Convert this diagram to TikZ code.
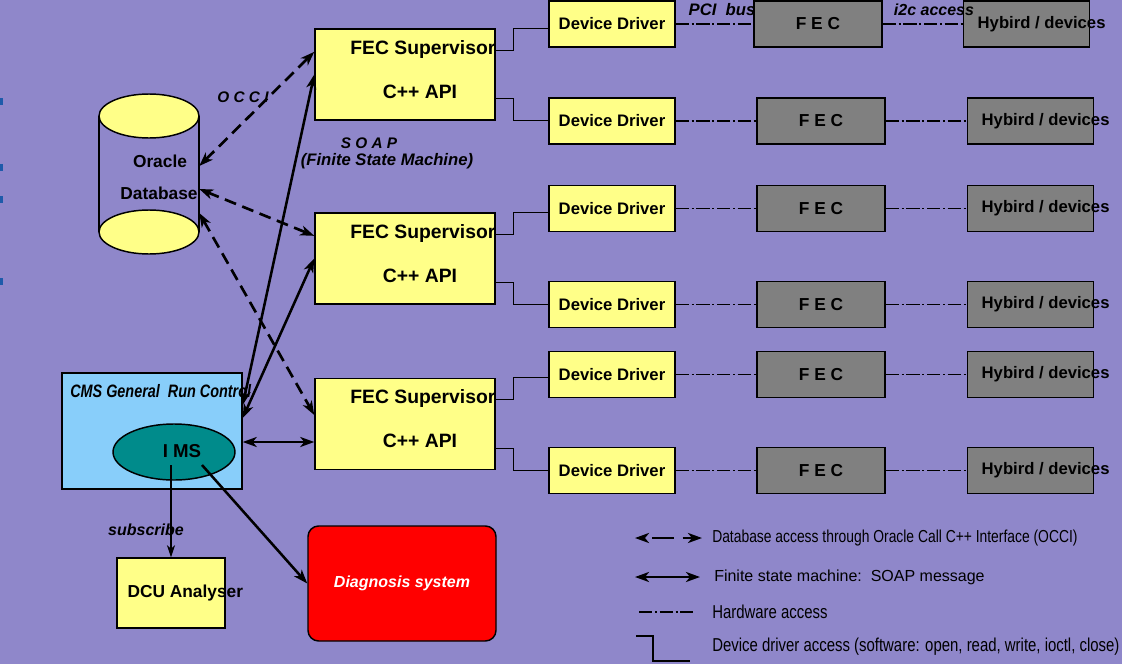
\documentclass[tikz,border=0pt]{standalone}
\usepackage{fontspec}
\setmainfont{Liberation Sans}
\newfontfamily\cnd[FakeStretch=0.8]{Liberation Sans}
\usetikzlibrary{arrows.meta,shapes.geometric}
\definecolor{bg}{RGB}{143,135,202}
\definecolor{pale}{RGB}{255,255,136}
\definecolor{sky}{RGB}{136,206,250}
\definecolor{teal2}{RGB}{0,139,139}
\definecolor{fecgray}{RGB}{128,128,128}
\definecolor{bluemark}{RGB}{30,90,170}
\newcommand\fsz[1]{\fontsize{#1}{#1}\selectfont}

\begin{document}
\begin{tikzpicture}[x=0.75pt,y=-0.75pt,
    >={Stealth[length=10.5pt,width=7.5pt,inset=3pt]},
    box/.style={rectangle,draw=black,line width=1.1pt,inner sep=0pt},
    sup/.style={box,fill=pale,minimum width=135pt,minimum height=68.25pt},
    dd/.style={box,fill=pale,minimum width=94.5pt,minimum height=34.5pt,font=\bfseries\fsz{12.5}},
    fec/.style={box,fill=fecgray,minimum width=96pt,minimum height=34.5pt,font=\bfseries\fsz{13}},
    hy/.style={box,fill=fecgray,minimum width=94.5pt,minimum height=34.5pt},
    lbl/.style={inner sep=0pt},
    occi/.style={line width=2pt,dash pattern=on 9pt off 5pt,<->},
    soap/.style={line width=1.9pt,<->},
    hw/.style={line width=1pt,dash pattern=on 10pt off 2pt on 1.5pt off 2pt},
    sw/.style={line width=1pt}]
    \fill[bg] (0,0) rectangle (1122,664);
    \useasboundingbox (0,0) rectangle (1122,664);
    \foreach \y in {98,164,196,278}
        \fill[bluemark] (0,\y) rectangle (2.5,\y+7);

    \node[minimum width=75pt,minimum height=120pt,inner sep=0pt] (db) at (149,175) {};
    \draw[line width=1.1pt] (99,116) -- (99,232) (199,116) -- (199,232);
    \draw[line width=1.1pt,fill=pale] (149,116) ellipse [x radius=50,y radius=22];
    \draw[line width=1.1pt,fill=pale] (149,232) ellipse [x radius=50,y radius=22];
    \node[lbl,font=\bfseries\fsz{13}] (dbt1) at (160,161) {Oracle};
    \node[lbl,font=\bfseries\fsz{13}] (dbt2) at (159,193) {Database};

    \foreach \i/\y in {1/74.5,2/258.5,3/424}{
        \node[sup] (s\i) at (405,\y) {};
        \node[lbl,anchor=east,font=\bfseries\fsz{14.5}] (st\i) at ([yshift=-15.75pt]s\i.north east) {FEC Supervisor};
        \node[lbl,font=\bfseries\fsz{14.5}] (sa\i) at ([xshift=11.25pt,yshift=22pt]s\i.south) {C++ API};
    }

    \foreach \i/\y/\f/\h in {1/24/818/1026.5,2/121/821/1030.5,3/208.5/821/1030.5,4/304.5/821/1030.5,5/374.5/821/1030.5,6/470.5/821/1030.5}{
        \node[dd] (d\i) at (612,\y) {Device Driver};
        \node[fec] (f\i) at (\f,\y) {F E C};
        \node[hy] (h\i) at (\h,\y) {};
        \node[lbl,anchor=west,font=\bfseries\fsz{12.5}] (ht\i) at ([xshift=11pt]h\i.west) {Hybird / devices};
        \draw[hw] (d\i) -- (f\i);
        \draw[hw] (f\i) -- (h\i);
    }

    \foreach \i/\a/\b in {1/1/2,2/3/4,3/5/6}{
        \draw[sw] ([yshift=-16.5pt]s\i.north east) -- ++(18,0) |- (d\a.west |- s\i.north);
        \draw[sw] ([yshift=16.5pt]s\i.south east) -- ++(18,0) |- (d\b.west |- s\i.south);
    }

    \node[lbl,font=\bfseries\itshape\fsz{12.5}] (pci) at (722,10) {PCI\ \ bus};
    \node[lbl,font=\bfseries\itshape\fsz{12}] (i2c) at (934,10) {i2c access};
    \node[lbl,font=\bfseries\itshape\fsz{11.5}] (occ) at (243,97) {O C C I};
    \node[lbl,font=\bfseries\itshape\fsz{11.5}] (soa) at (369,143) {S O A P};
    \node[lbl,font=\bfseries\itshape\fsz{12.5}] (fsm) at (387,161) {(Finite State Machine)};

    \node[box,fill=sky,minimum width=135pt,minimum height=87pt] (cms) at (152,431) {};
    \node[lbl,anchor=west,font=\cnd\bfseries\itshape\fsz{13.5}] (cmst) at (70,391) {CMS General\ \ Run Control};
    \node[ellipse,draw=black,line width=1.1pt,fill=teal2,minimum width=91.5pt,minimum height=42pt,inner sep=0pt] (ims) at (174,452) {};
    \node[lbl,font=\bfseries\fsz{14}] (imst) at (182,451) {I MS};
    \node[box,fill=pale,minimum width=81pt,minimum height=52.5pt] (dcu) at (171,593) {};
    \node[lbl,anchor=west,font=\bfseries\fsz{13}] (dcut) at ([xshift=8.25pt]dcu.west) {DCU Analyser};
    \node[box,fill=red,rounded corners=8pt,minimum width=141pt,minimum height=86.25pt,text=white,font=\bfseries\itshape\fsz{12}] (diag) at (402,583.5) {Diagnosis system};

    \draw[occi] ([yshift=6.75pt]db.east) -- ([yshift=17pt]s1.west);
    \draw[occi] ([yshift=-10.5pt]db.east) -- ([yshift=17pt]s2.west);
    \draw[occi] ([yshift=-28.5pt]db.east) -- ([yshift=6.75pt]s3.west);
    \draw[soap] ([yshift=19.5pt]cms.east) -- (s1.west);
    \draw[soap] ([yshift=9.75pt]cms.east) -- (s2.west);
    \coordinate (c3) at ([yshift=-13.5pt]s3.west);
    \draw[soap] (c3 -| cms.east) -- (c3);
    \coordinate (i0) at ([yshift=-9.75pt]ims.center);
    \draw[sw,-{Stealth[length=9pt,width=6pt,inset=2.5pt]}] (i0 -| dcu.north) -- (dcu.north);
    \draw[line width=1.9pt,->] ([xshift=21pt]i0) -- (diag.west);
    \node[lbl,font=\bfseries\itshape\fsz{12}] (subt) at (146,530) {subscribe};

    \coordinate (l1a) at (635,538);
    \coordinate (l1b) at (702,538);
    \draw[occi,dash pattern=on 16.5pt off 6.25pt,dash phase=16.5pt] (l1a) -- (l1b);
    \node[lbl,anchor=west,font=\cnd\fsz{13}] (lt1) at (712,538) {Database access through Oracle Call C++ Interface (OCCI)};
    \coordinate (l2a) at (635,577);
    \coordinate (l2b) at (700,577);
    \draw[soap] (l2a) -- (l2b);
    \node[lbl,anchor=west,font=\fsz{12}] (lt2) at (714,577) {Finite state machine:\ \ SOAP message};
    \coordinate (l3a) at (639,612);
    \coordinate (l3b) at (693,612);
    \draw[hw] (l3a) -- (l3b);
    \node[lbl,anchor=west,font=\cnd\fsz{14}] (lt3) at (712,612) {Hardware access};
    \coordinate (l4a) at (636,636);
    \coordinate (l4b) at (690,661);
    \draw[sw] (l4a) -- ++(17,0) |- (l4b);
    \node[lbl,anchor=west,font=\cnd\fsz{14}] (lt4) at (712,647) {Device driver access (software: open, read, write, ioctl, close)};
\end{tikzpicture}
\end{document}
